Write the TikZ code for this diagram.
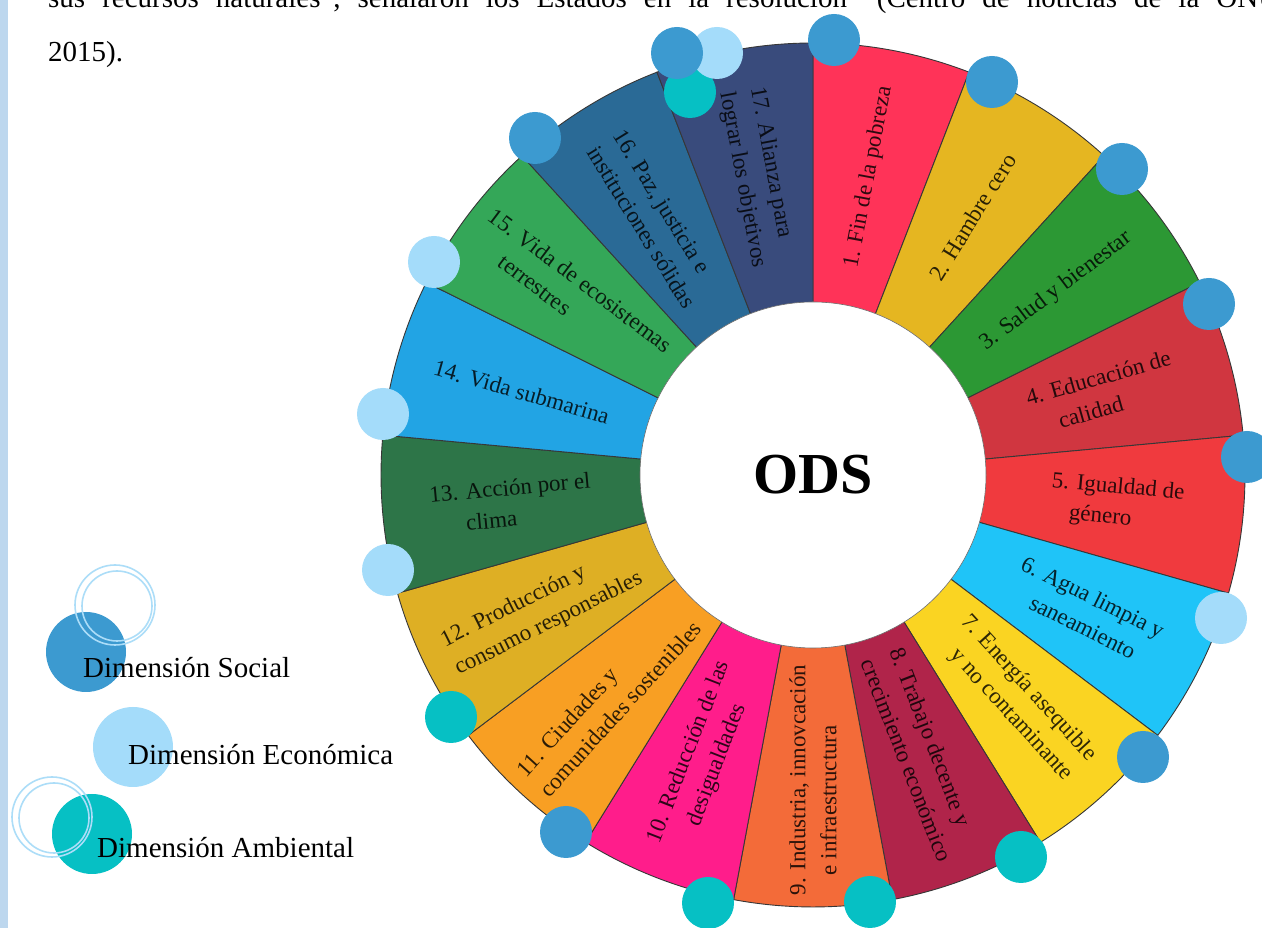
\documentclass[tikz,border=0pt]{standalone}
\usepackage{fontspec}
\setmainfont{Liberation Serif}
\usetikzlibrary{calc}
\definecolor{sdg1}{RGB}{255,51,88}
\definecolor{sdg2}{RGB}{229,182,33}
\definecolor{sdg3}{RGB}{44,152,52}
\definecolor{sdg4}{RGB}{208,54,64}
\definecolor{sdg5}{RGB}{240,58,62}
\definecolor{sdg6}{RGB}{31,196,248}
\definecolor{sdg7}{RGB}{250,212,34}
\definecolor{sdg8}{RGB}{176,36,74}
\definecolor{sdg9}{RGB}{243,107,57}
\definecolor{sdg10}{RGB}{255,29,139}
\definecolor{sdg11}{RGB}{248,159,35}
\definecolor{sdg12}{RGB}{222,175,36}
\definecolor{sdg13}{RGB}{45,117,72}
\definecolor{sdg14}{RGB}{34,164,228}
\definecolor{sdg15}{RGB}{52,167,88}
\definecolor{sdg16}{RGB}{42,106,150}
\definecolor{sdg17}{RGB}{57,75,124}
\definecolor{social}{RGB}{60,154,208}
\definecolor{econ}{RGB}{164,220,250}
\definecolor{env}{RGB}{6,192,196}
\definecolor{ringcol}{RGB}{172,221,248}
\definecolor{leftbar}{RGB}{189,215,238}
\definecolor{segline}{RGB}{55,55,55}
\definecolor{innerline}{RGB}{110,110,110}
\newcommand{\labfont}{\fontsize{23}{27}\selectfont}
\newcommand{\bodyfont}{\fontsize{29}{34}\selectfont}
\newcommand{\nl}{\\[4pt]}
\begin{document}
\begin{tikzpicture}[x=1pt,y=1pt,
  lab/.style={font=\labfont, align=left, inner sep=0pt, text=black, text opacity=0.82},
  dot/.style={radius=26},
  ring/.style={draw=ringcol, line width=1.6pt},
  legtext/.style={font=\bodyfont, anchor=base west, inner sep=0pt},
  bodytext/.style={font=\bodyfont, anchor=base west, inner sep=0pt}]
\useasboundingbox (0,0) rectangle (1262,928);
\clip (0,0) rectangle (1262,928);
\fill[white] (0,0) rectangle (1262,928);
\fill[leftbar] (0,0) rectangle (8,928);
% top text
\node[bodytext] (t1) at (48,920) {\spaceskip=17pt\relax sus recursos naturales”, señalaron los Estados en la resolución” (Centro de noticias de la ONU,};
\node[bodytext] (t2) at (48,866) {2015).};
% wheel
\coordinate (C) at (813,453);
\foreach \col [count=\i] in {sdg1,sdg2,sdg3,sdg4,sdg5,sdg6,sdg7,sdg8,sdg9,sdg10,sdg11,sdg12,sdg13,sdg14,sdg15,sdg16,sdg17} {
  \pgfmathsetmacro{\aa}{90-(\i-1)*360/17}
  \pgfmathsetmacro{\ab}{90-\i*360/17}
  \filldraw[fill=\col, draw=segline, line width=0.9pt] (C) -- ++(\aa:432) arc[start angle=\aa, end angle=\ab, radius=432] -- cycle;
}
\filldraw[fill=white, draw=innerline, line width=0.6pt] (C) circle[radius=173];
\node[font=\fontsize{58}{60}\selectfont\bfseries, inner sep=0pt] (ods) at (C) {ODS};
% labels
\node[lab, rotate=79.412] (l1) at ($(C)+(79.412:303)$) {1. Fin de la pobreza};
\node[lab, rotate=58.235] (l2) at ($(C)+(58.235:303)$) {2. Hambre cero};
\node[lab, rotate=37.059] (l3) at ($(C)+(37.059:305)$) {3. Salud y bienestar};
\node[lab, rotate=15.882] (l4) at ($(C)+(15.882:301)$) {4. Educación de\nl\hspace*{25pt}calidad};
\node[lab, rotate=-5.294] (l5) at ($(C)+(-5.294:305)$) {5. Igualdad de\nl\hspace*{20pt}género};
\node[lab, rotate=-26.471] (l6) at ($(C)+(-26.471:305)$) {6. Agua limpia y\nl\hspace*{25pt}saneamiento};
\node[lab, rotate=-47.647] (l7) at ($(C)+(-47.647:303)$) {7. Energía asequible\nl\hspace*{17pt}y no contaminante};
\node[lab, rotate=-68.824] (l8) at ($(C)+(-68.824:300)$) {8. Trabajo decente y\nl crecimiento económico};
\node[lab, rotate=90] (l9) at ($(C)+(-90:305)$) {9. Industria, innovcación\nl\hspace*{20pt}e infraestructura};
\node[lab, rotate=68.824] (l10) at ($(C)+(-111.176:303)$) {10. Reducción de las\nl\hspace*{30pt}desigualdades};
\node[lab, rotate=47.647] (l11) at ($(C)+(-132.353:303)$) {11. Ciudades y\nl comunidades sostenibles};
\node[lab, rotate=26.471] (l12) at ($(C)+(-153.529:303)$) {12. Producción y\nl consumo responsables};
\node[lab, rotate=5.294] (l13) at ($(C)+(-174.706:303)$) {13. Acción por el\nl\hspace*{34pt}clima};
\node[lab, rotate=-15.882] (l14) at ($(C)+(164.118:303)$) {14. Vida submarina};
\node[lab, rotate=-37.059] (l15) at ($(C)+(142.941:303)$) {15. Vida de ecosistemas\nl\hspace*{36pt}terrestres};
\node[lab, rotate=-58.235] (l16) at ($(C)+(121.765:301)$) {16. Paz, justicia e\nl instituciones sólidas};
\node[lab, rotate=-79.412] (l17) at ($(C)+(100.588:303)$) {17. Alianza para\nl lograr los objetivos};
% dots around the wheel
\fill[social] (834,888) circle[dot];
\fill[social] (992,846) circle[dot];
\fill[social] (1122,759) circle[dot];
\fill[social] (1209,624) circle[dot];
\fill[social] (1247,471) circle[dot];
\fill[econ] (1221,310) circle[dot];
\fill[social] (1143,171) circle[dot];
\fill[env] (1021,71) circle[dot];
\fill[env] (870,26) circle[dot];
\fill[env] (708,25) circle[dot];
\fill[social] (566,96) circle[dot];
\fill[env] (451,211) circle[dot];
\fill[econ] (388,358) circle[dot];
\fill[econ] (383,514) circle[dot];
\fill[econ] (434,666) circle[dot];
\fill[social] (535,790) circle[dot];
\fill[env] (690,836) circle[dot];
\fill[econ] (717,875) circle[dot];
\fill[social] (677,875) circle[dot];
% legend
\fill[social] (86,276) circle[radius=40];
\draw[ring] (115,323) circle[radius=40];
\draw[ring] (117,322) circle[radius=35];
\fill[econ] (133,181) circle[radius=40];
\fill[env] (92,94) circle[radius=40];
\draw[ring] (52,111) circle[radius=40];
\draw[ring] (54,110) circle[radius=35];
\node[legtext] (ls) at (83,250) {Dimensión Social};
\node[legtext] (le) at (128,163) {Dimensión Económica};
\node[legtext] (la) at (97,70) {Dimensión Ambiental};
\end{tikzpicture}
\end{document}
